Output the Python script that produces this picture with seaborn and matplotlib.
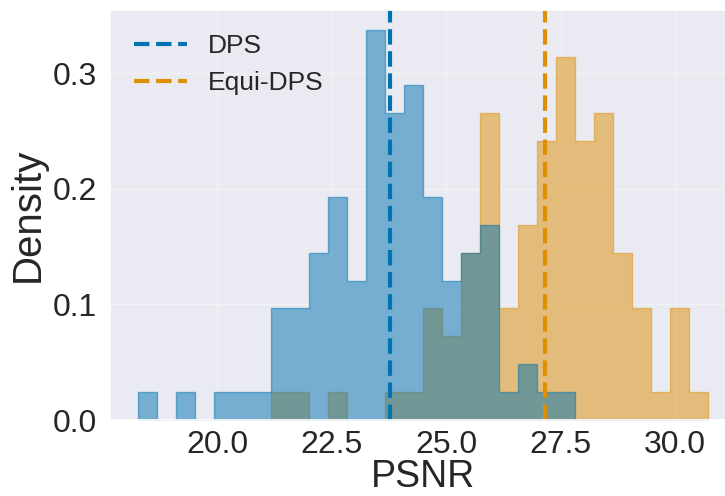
import numpy as np
import pandas as pd
import matplotlib
matplotlib.use("Agg")
import matplotlib.pyplot as plt
import matplotlib.colors as mcolors
import seaborn as sns

# ---- data ----
methods = ["DPS", "Equi-DPS"]
psnr_range = (18.275, 30.707)   # combined data range used for the 30 common bins
n_bins = 30
dps_counts = [1, 0, 1, 0, 1, 1, 1, 4, 4, 6, 8, 5, 14, 11, 12, 8, 5, 6, 7, 1, 2, 1, 1,
              0, 0, 0, 0, 0, 0, 0]
equi_counts = [0, 0, 0, 0, 0, 0, 0, 1, 1, 0, 1, 0, 0, 1, 1, 4, 3, 6, 11, 4, 7, 10, 13,
               10, 11, 6, 4, 1, 4, 1]
mean_psnr = [23.76, 27.15]
colors = ["#0173B2", "#DE8F05"]

# build a long table: one row per bin centre with its count as weight
edges = np.linspace(psnr_range[0], psnr_range[1], n_bins + 1)
centers = (edges[:-1] + edges[1:]) / 2
df = pd.DataFrame({
    "PSNR": np.concatenate([centers, centers]),
    "count": np.concatenate([dps_counts, equi_counts]),
    "Method": [methods[0]] * n_bins + [methods[1]] * n_bins,
})

sns.set_theme(style="darkgrid")
plt.rcParams["font.family"] = ["Liberation Sans", "DejaVu Sans"]

fig = plt.figure(figsize=(7.25, 4.96), dpi=100)
ax = fig.add_axes([110 / 725, 76 / 496, 626 / 725, 410 / 496])

sns.histplot(data=df, x="PSNR", weights="count", hue="Method", hue_order=methods,
             bins=n_bins, binrange=psnr_range, stat="density", common_norm=False,
             element="step", palette=colors, alpha=0.5, linewidth=1,
             legend=False, ax=ax)

# make the step outlines as translucent as the fill
for coll in ax.collections:
    fc = coll.get_facecolor()
    if len(fc):
        coll.set_edgecolor(mcolors.to_rgba(fc[0][:3], 0.5))

for m, c, name in zip(mean_psnr, colors, methods):
    ax.axvline(m, color=c, linestyle="--", linewidth=3, label=name)

ax.grid(True, alpha=0.35)
ax.set_xlabel("PSNR", fontsize=27, labelpad=-1)
ax.set_ylabel("Density", fontsize=29, labelpad=4)
ax.tick_params(labelsize=23)
ax.tick_params(axis="x", pad=1.5)
ax.set_yticks([0.0, 0.1, 0.2, 0.3])
ax.legend(loc="upper left", fontsize=19, frameon=False)

fig.savefig("out.png", dpi=100)
